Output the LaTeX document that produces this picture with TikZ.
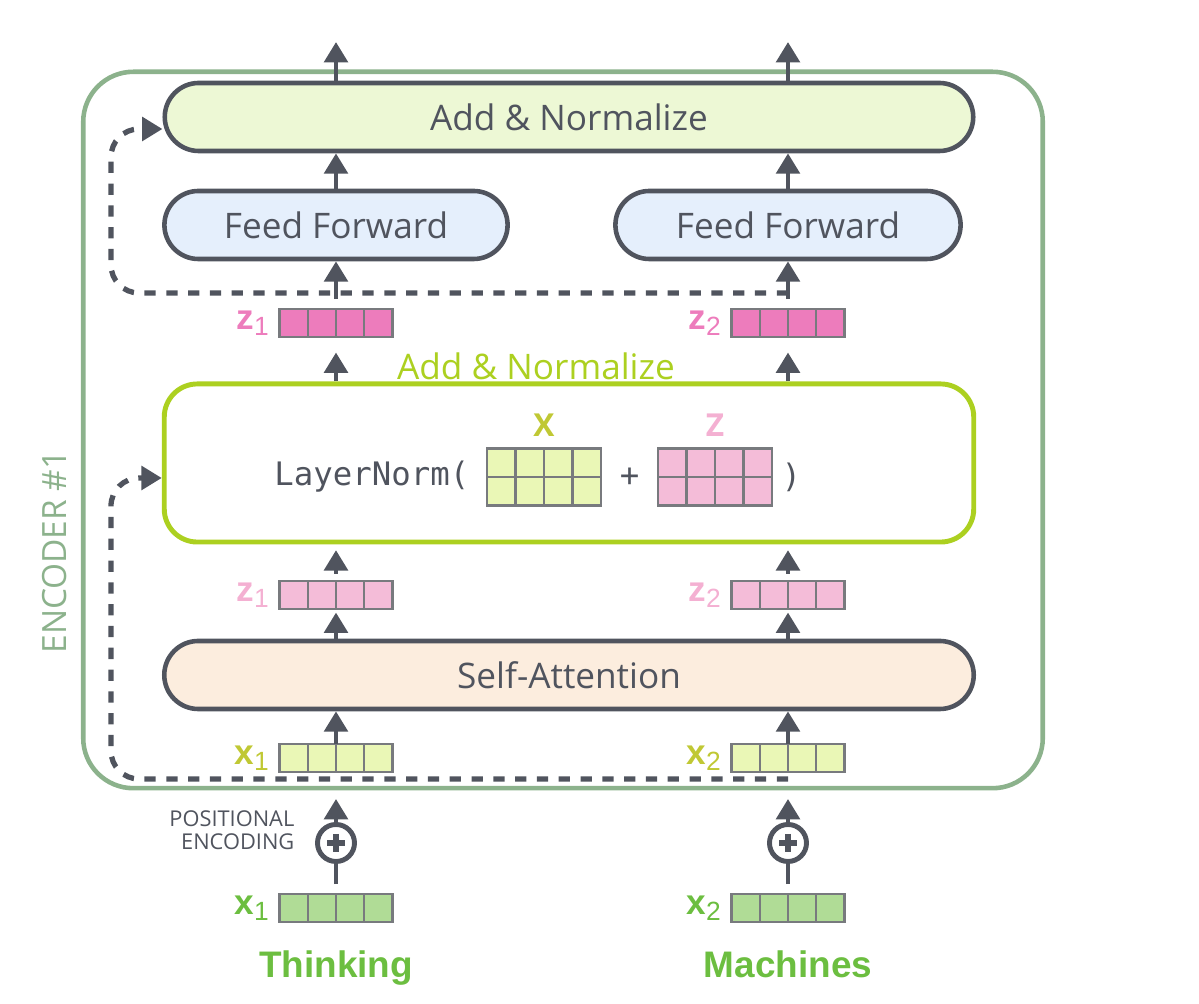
\documentclass[tikz,border=0pt]{standalone}
\usepackage{fontspec}
\setmainfont{Open Sans}
\setmonofont{DejaVu Sans Mono}
\newfontfamily\labelfont{Liberation Sans}
\usetikzlibrary{arrows.meta, positioning, calc}

\definecolor{encgreen}{RGB}{140,178,140}
\definecolor{darkline}{RGB}{80,84,94}
\definecolor{addfill}{RGB}{237,248,213}
\definecolor{fffill}{RGB}{229,239,252}
\definecolor{safill}{RGB}{252,237,222}
\definecolor{lime}{RGB}{172,208,32}
\definecolor{zdark}{RGB}{237,124,188}
\definecolor{zlight}{RGB}{244,188,216}
\definecolor{zlabel}{RGB}{244,176,210}
\definecolor{xfill}{RGB}{234,247,182}
\definecolor{xolive}{RGB}{192,200,52}
\definecolor{embfill}{RGB}{176,220,150}
\definecolor{embgreen}{RGB}{108,190,64}
\definecolor{cellgray}{RGB}{120,122,126}

\newcommand{\vlab}[2]{{\bfseries #1}\raisebox{-1.6pt}{\fontsize{7.5}{7.5}\selectfont #2}}
\newcommand{\splitcells}[2]{%
  \foreach \k in {1,2,3}
    \draw[cellline] ($(#1.south west)!\k/4!(#1.south east)$) -- ($(#1.north west)!\k/4!(#1.north east)$);
  \ifnum#2=2 \draw[cellline] (#1.west) -- (#1.east);\fi}

\begin{document}
\begin{tikzpicture}[x=0.01cm, y=-0.01cm, >={Triangle[length=5.8pt,width=6.6pt]},
    block/.style={draw=darkline, line width=1.3pt, rounded corners=0.34cm, minimum height=0.68cm, inner sep=0pt, font=\fontsize{10}{12}\selectfont, text=darkline},
    vec/.style={draw=cellgray, line width=0.6pt, minimum width=1.13cm, minimum height=0.28cm, inner sep=0pt, outer sep=0pt},
    mat/.style={vec, minimum width=1.14cm, minimum height=0.57cm},
    cellline/.style={draw=cellgray, line width=0.6pt},
    veclabel/.style={font=\labelfont\fontsize{10}{11}\selectfont, inner sep=0pt},
    flow/.style={->, draw=darkline, line width=1.4pt},
    resid/.style={->, draw=darkline, line width=1.5pt, dash pattern=on 3.2pt off 3pt, rounded corners=0.28cm},
    pe/.style={circle, draw=darkline, line width=1.4pt, minimum size=0.37cm, inner sep=0pt,
      path picture={\draw[darkline, line width=1.5pt] (path picture bounding box.center) +(-9,0) -- +(9,0) +(0,-9) -- +(0,9);}}]
    \useasboundingbox (0,0) rectangle (1199,1004);

    % encoder frame
    \node [draw=encgreen, line width=1.3pt, rounded corners=0.5cm, minimum width=9.59cm, minimum height=7.16cm] (enc) at (563,430) {};
    \node [rotate=90, text=encgreen, font=\fontsize{9.5}{11}\selectfont] (enclabel) at (55,552) {ENCODER \#1};

    % blocks
    \node [block, fill=addfill, minimum width=8.08cm] (addnorm2) at (569,117) {Add \& Normalize};
    \node [block, fill=fffill, minimum width=3.43cm] (ff1) at (336,225) {Feed Forward};
    \node [block, fill=fffill, minimum width=3.45cm] (ff2) at (788,225) {Feed Forward};
    \node [draw=lime, line width=1.4pt, rounded corners=0.33cm, minimum width=8.09cm, minimum height=1.58cm] (ln) at (569,463) {};
    \node [text=lime, font=\fontsize{10}{12}\selectfont] (lnlabel) at (536,366) {Add \& Normalize};
    \node [block, fill=safill, minimum width=8.09cm] (sa) at (569,675) {Self-Attention};

    % layer norm contents
    \node [mat, fill=xfill] (xmat) at (544,477) {};
    \node [mat, fill=zlight] (zmat) at (715,477) {};
    \splitcells{xmat}{2}
    \splitcells{zmat}{2}
    \node [left=0.17cm of xmat, inner sep=0pt, text=darkline, font=\ttfamily\fontsize{9.2}{11}\selectfont] (lnorm) {LayerNorm(};
    \node [inner sep=0pt, text=darkline, font=\ttfamily\fontsize{9.2}{11}\selectfont] (plus) at ($(xmat.east)!0.5!(zmat.west)$) {+};
    \node [right=0.09cm of zmat, inner sep=0pt, text=darkline, font=\ttfamily\fontsize{9.2}{11}\selectfont] (close) {)};
    \node [above=0.11cm of xmat, inner sep=0pt, text=xolive, font=\bfseries\fontsize{9}{10}\selectfont] (xname) {X};
    \node [above=0.11cm of zmat, inner sep=0pt, text=zlabel, font=\bfseries\fontsize{9}{10}\selectfont] (zname) {Z};

    % vectors
    \node [vec, fill=zdark] (zd1) at (336,323) {};
    \node [vec, fill=zdark] (zd2) at (788,323) {};
    \node [vec, fill=zlight] (zl1) at (336,595) {};
    \node [vec, fill=zlight] (zl2) at (788,595) {};
    \node [vec, fill=xfill] (xl1) at (336,758) {};
    \node [vec, fill=xfill] (xl2) at (788,758) {};
    \node [vec, fill=embfill] (emb1) at (336,908) {};
    \node [vec, fill=embfill] (emb2) at (788,908) {};
    \foreach \v in {zd1,zd2,zl1,zl2,xl1,xl2,emb1,emb2} {\splitcells{\v}{1}}

    \node [veclabel, text=zdark, left=0.1cm of zd1] (zd1lab) {\vlab{z}{1}};
    \node [veclabel, text=zdark, left=0.1cm of zd2] (zd2lab) {\vlab{z}{2}};
    \node [veclabel, text=zlabel, left=0.1cm of zl1] (zl1lab) {\vlab{z}{1}};
    \node [veclabel, text=zlabel, left=0.1cm of zl2] (zl2lab) {\vlab{z}{2}};
    \node [veclabel, text=xolive, left=0.1cm of xl1] (xl1lab) {\vlab{x}{1}};
    \node [veclabel, text=xolive, left=0.1cm of xl2] (xl2lab) {\vlab{x}{2}};
    \node [veclabel, text=embgreen, left=0.1cm of emb1] (emb1lab) {\vlab{x}{1}};
    \node [veclabel, text=embgreen, left=0.1cm of emb2] (emb2lab) {\vlab{x}{2}};

    % positional encoding
    \node [pe] (pe1) at (336,843) {};
    \node [pe] (pe2) at (788,843) {};
    \node [left=0.2cm of pe1, yshift=0.13cm, inner sep=0pt, align=right, text=darkline, font=\fontsize{6.2}{6.6}\selectfont] (pelabel) {POSITIONAL\\ENCODING};

    % words
    \node [below=0.28cm of emb1, inner sep=0pt, text=embgreen, font=\labelfont\bfseries\fontsize{10.5}{12}\selectfont] (word1) {Thinking};
    \node [below=0.28cm of emb2, inner sep=0pt, text=embgreen, font=\labelfont\bfseries\fontsize{10.5}{12}\selectfont] (word2) {Machines};

    \coordinate (out1) at (336,42);
    \coordinate (out2) at (788,42);
    \coordinate (skip1) at (788,779);
    \coordinate (skip2) at (788,293);

    % residual connections
    \draw [resid] (skip1) -| (111,478) -- ($(ln.west)+(0,15)$);
    \draw [resid] (skip2) -| (111,129) -- ($(addnorm2.west)+(0,12)$);

    % flow arrows
    \foreach \c in {1,2} {
        \draw [darkline, line width=1.4pt, shorten <=2.8pt] (emb\c.north) -- (pe\c.south);
        \draw [flow, shorten >=2.4pt] (pe\c.north) -- (pe\c.north |- enc.south);
        \draw [flow] (xl\c.north) -- (xl\c.north |- sa.south);
        \draw [flow, shorten >=1pt] (sa.north -| zl\c) -- (zl\c.south);
        \draw [flow, shorten <=2pt, shorten >=1.6pt] (zl\c.north) -- (zl\c.north |- ln.south);
        \draw [flow, shorten >=4.4pt] (ln.north -| zd\c) -- (zd\c.south);
        \draw [flow, shorten <=2.8pt] (zd\c.north) -- (ff\c.south);
        \draw [flow] (ff\c.north) -- (ff\c.north |- addnorm2.south);
        \draw [flow] (addnorm2.north -| out\c) -- (out\c);
    }
\end{tikzpicture}
\end{document}
